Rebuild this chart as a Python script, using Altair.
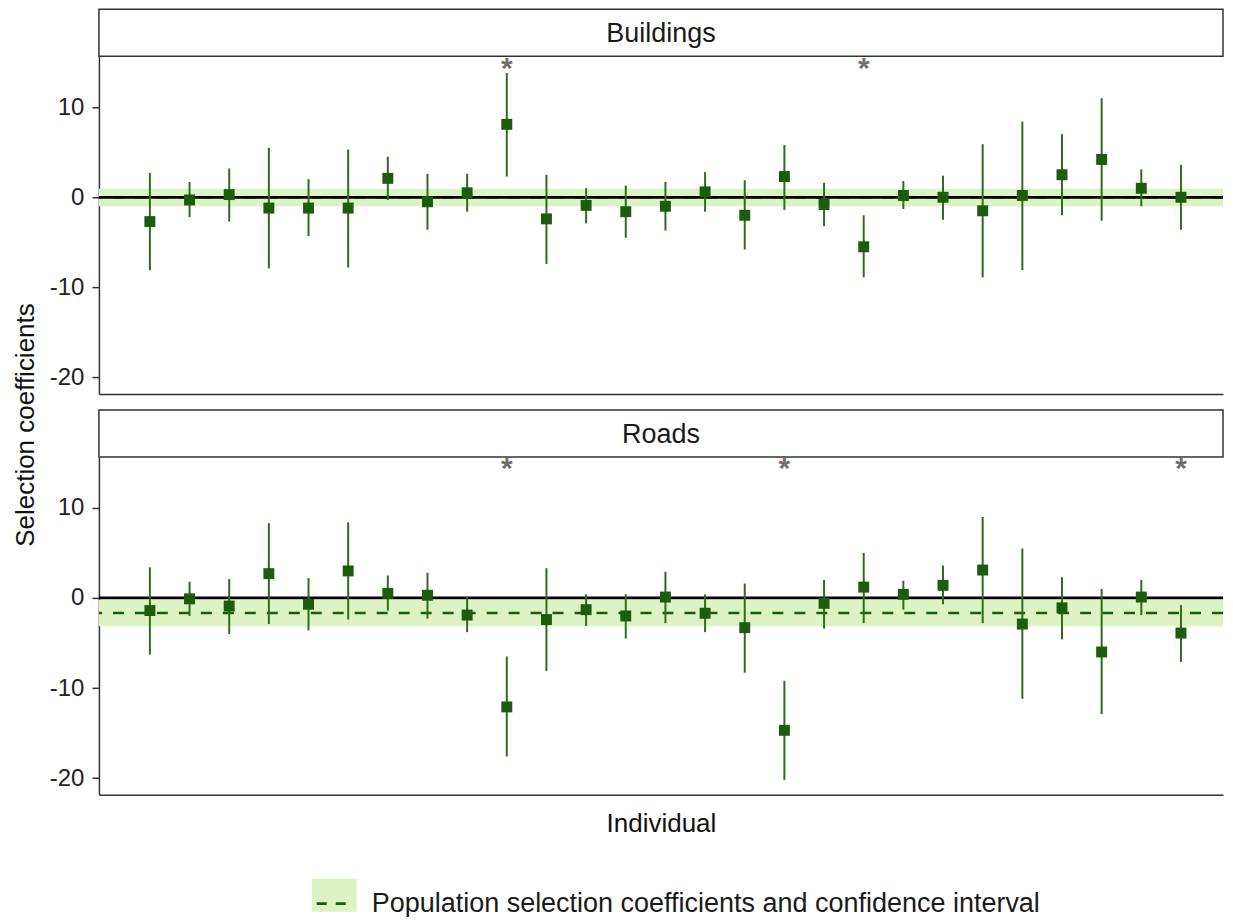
import altair as alt
import pandas as pd

# ---------------- data ----------------
individuals = list(range(1, 28))

est_b = [-2.7, -0.3, 0.3, -1.2, -1.2, -1.2, 2.1, -0.5, 0.5, 8.1, -2.4, -0.9, -1.6, -1.0,
         0.6, -2.0, 2.3, -0.8, -5.5, 0.2, 0.0, -1.5, 0.2, 2.5, 4.2, 1.0, 0.0]
lo_b = [-8.1, -2.2, -2.7, -7.9, -4.3, -7.8, -0.3, -3.6, -1.6, 2.3, -7.4, -2.9, -4.5, -3.7,
        -1.6, -5.8, -1.4, -3.2, -8.9, -1.3, -2.5, -8.9, -8.1, -2.0, -2.6, -1.0, -3.6]
hi_b = [2.7, 1.7, 3.2, 5.5, 2.0, 5.3, 4.5, 2.6, 2.6, 13.8, 2.5, 1.0, 1.3, 1.7,
        2.8, 1.9, 5.8, 1.6, -2.0, 1.8, 2.4, 5.9, 8.4, 7.0, 11.0, 3.1, 3.6]

est_r = [-1.4, -0.1, -0.9, 2.7, -0.7, 3.0, 0.5, 0.3, -1.9, -12.1, -2.4, -1.3, -2.0, 0.1,
         -1.7, -3.3, -14.7, -0.6, 1.2, 0.4, 1.4, 3.1, -2.9, -1.1, -6.0, 0.1, -3.9]
lo_r = [-6.3, -2.0, -4.0, -2.9, -3.6, -2.4, -1.4, -2.3, -3.8, -17.6, -8.1, -3.1, -4.5, -2.8,
        -3.8, -8.3, -20.2, -3.4, -2.8, -1.3, -0.7, -2.8, -11.2, -4.6, -12.9, -1.9, -7.1]
hi_r = [3.4, 1.8, 2.1, 8.3, 2.2, 8.4, 2.5, 2.8, 0.1, -6.5, 3.3, 0.4, 0.4, 2.9,
        0.4, 1.6, -9.2, 2.0, 5.0, 1.9, 3.6, 9.0, 5.5, 2.3, 1.0, 2.0, -0.8]

panels = ["Buildings", "Roads"]
pop_est = [0.0, -1.67]
pop_lo = [-1.0, -3.15]
pop_hi = [0.95, -0.2]
sig_b = [10, 19]
sig_r = [10, 17, 27]
sig_y = 14.4
y_ticks = [-20, -10, 0, 10]
legend_label = "Population selection coefficients and confidence interval"

# ---------------- style ----------------
W, H = 1125, 338
STRIP = 47
GREEN = "#1f5b0f"
BAR = "#2e6d1f"
BAND = "#dcf4c3"
FONT = "Liberation Sans"

x_scale = alt.Scale(domain=[-0.285, 28.06], nice=False, zero=False)
y_scale = alt.Scale(domain=[-21.85, 15.65], nice=False, zero=False)


def panel(name, est, lo, hi, pest, plo, phi, sig, bottom):
    df = pd.DataFrame({"ind": individuals, "est": est, "lo": lo, "hi": hi})
    pop = pd.DataFrame({"est": [pest], "lo": [plo], "hi": [phi], "zero": [0.0]})
    sigdf = pd.DataFrame({"ind": sig, "y": [sig_y] * len(sig), "t": ["*"] * len(sig)})
    strip = pd.DataFrame({"name": [name]})

    if bottom:
        yaxis = alt.Axis(title="Selection coefficients", titleY=-32.5, titlePadding=11,
                         titleFontSize=26, values=y_ticks, labelExpr="datum.value + ''",
                         labelFontSize=24, tickSize=7, labelPadding=8)
        xaxis = alt.Axis(title="Individual", labels=False, ticks=False, titleFontSize=26,
                         titlePadding=16)
    else:
        yaxis = alt.Axis(title=None, values=y_ticks, labelExpr="datum.value + ''",
                         labelFontSize=24, tickSize=7, labelPadding=8)
        xaxis = alt.Axis(title=None, labels=False, ticks=False)

    band = alt.Chart(pop).mark_rect(color=BAND, opacity=1).encode(
        x=alt.value(0), x2=alt.value(W),
        y=alt.Y("lo:Q", scale=y_scale, axis=yaxis), y2="hi:Q")
    dash = alt.Chart(pop).mark_rule(color=GREEN, strokeDash=[11, 11], strokeWidth=2.5).encode(
        y=alt.Y("est:Q", scale=y_scale, axis=yaxis))
    zero = alt.Chart(pop).mark_rule(color="black", strokeWidth=2.8).encode(
        y=alt.Y("zero:Q", scale=y_scale, axis=yaxis))
    bars = alt.Chart(df).mark_rule(color=BAR, strokeWidth=2).encode(
        x=alt.X("ind:Q", scale=x_scale, axis=xaxis),
        y=alt.Y("lo:Q", scale=y_scale, axis=yaxis), y2="hi:Q")
    pts = alt.Chart(df).mark_point(shape="square", filled=True, size=120, color=GREEN,
                                   opacity=1).encode(
        x=alt.X("ind:Q", scale=x_scale, axis=xaxis),
        y=alt.Y("est:Q", scale=y_scale, axis=yaxis))
    stars = alt.Chart(sigdf).mark_text(fontSize=30, font=FONT, fontWeight="bold",
                                       color="#6e6e6e", baseline="middle", dy=1).encode(
        x=alt.X("ind:Q", scale=x_scale, axis=xaxis),
        y=alt.Y("y:Q", scale=y_scale, axis=yaxis), text="t:N")
    sbox = alt.Chart(strip).mark_rect(fill="white", stroke="#333333", strokeWidth=1.5).encode(
        x=alt.value(0), x2=alt.value(W), y=alt.value(-STRIP), y2=alt.value(0))
    stext = alt.Chart(strip).mark_text(fontSize=27, font=FONT, color="#1a1a1a",
                                       baseline="middle").encode(
        x=alt.value(W / 2), y=alt.value(-STRIP / 2 + 1), text="name:N")

    layers = [band, dash, zero, bars, pts, stars, sbox, stext]

    if bottom:
        leg = pd.DataFrame({"label": [legend_label]})
        lrect = alt.Chart(leg).mark_rect(fill=BAND).encode(
            x=alt.value(213), x2=alt.value(258), y=alt.value(422), y2=alt.value(455))
        ldash = alt.Chart(leg).mark_rule(color=GREEN, strokeDash=[10, 9], strokeWidth=2.8).encode(
            x=alt.value(218), x2=alt.value(252), y=alt.value(447))
        ltext = alt.Chart(leg).mark_text(fontSize=27, font=FONT, color="#1a1a1a", align="left",
                                         baseline="middle").encode(
            x=alt.value(273), y=alt.value(447), text="label:N")
        layers += [lrect, ldash, ltext]

    return alt.layer(*layers).properties(width=W, height=H)


top = panel(panels[0], est_b, lo_b, hi_b, pop_est[0], pop_lo[0], pop_hi[0], sig_b, False)
bot = panel(panels[1], est_r, lo_r, hi_r, pop_est[1], pop_lo[1], pop_hi[1], sig_r, True)

chart = alt.vconcat(top, bot, spacing=63, bounds="flush").properties(
    padding={"left": 4, "top": 0, "right": 0, "bottom": 0}
).configure_axis(
    domainColor="#333333", domainWidth=1.5, tickColor="#333333", tickWidth=1.5,
    labelFont=FONT, titleFont=FONT, grid=False, labelColor="#222222",
    titleColor="#111111", titleFontWeight="normal"
).configure_view(stroke=None).configure_text(font=FONT)

chart.save("out.html", embed_options={"renderer": "svg", "actions": False})
